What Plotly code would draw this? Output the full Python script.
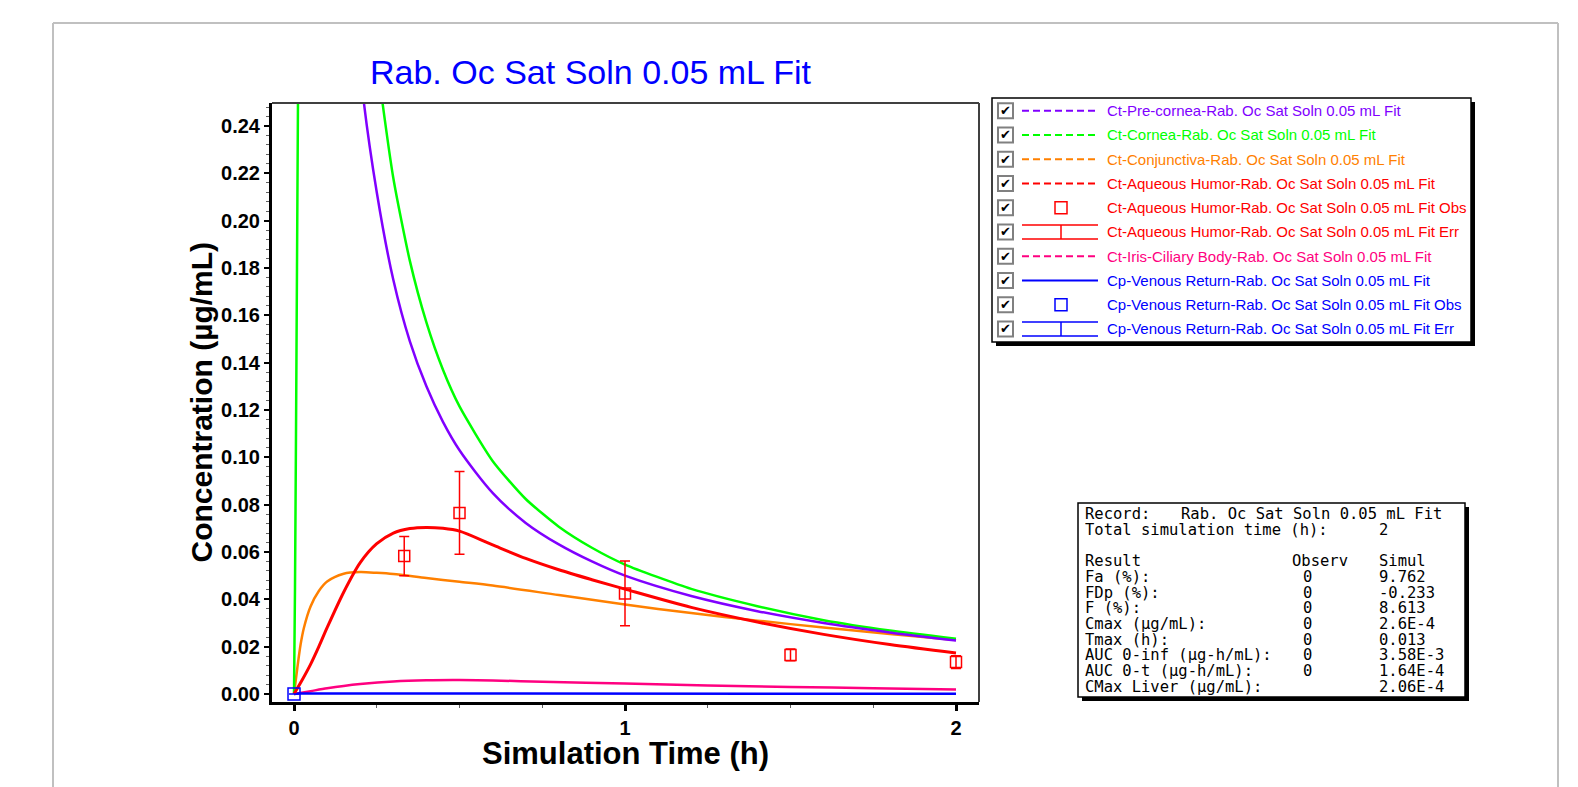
import plotly.graph_objects as go

W, H = 1578, 787
PL, PR, PT, PB = 272, 979, 103, 702  # plot area in pixels

X_RANGE = [-0.0665, 2.0695]
Y_RANGE = [-0.00338, 0.24972]

PURPLE = "#8000FF"
GREEN = "#00FF00"
ORANGE = "#FF8000"
RED = "#FF0000"
PINK = "#FF0080"
BLUE = "#0000FF"

TITLE = "Rab. Oc Sat Soln 0.05 mL Fit"
X_TITLE = "Simulation Time (h)"
Y_TITLE = "Concentration (µg/mL)"
X_TICKS = [0, 1, 2]
Y_TICKS = [0.00, 0.02, 0.04, 0.06, 0.08, 0.10, 0.12, 0.14, 0.16, 0.18, 0.20, 0.22, 0.24]

# ---- simulated curves ----
t_precornea = [0.17, 0.206, 0.25, 0.3, 0.35, 0.4, 0.45, 0.5, 0.6, 0.7, 0.8, 0.9, 1.0, 1.2, 1.4, 1.6, 1.8, 2.0]
c_precornea = [0.316, 0.256, 0.212, 0.175, 0.149, 0.130, 0.115, 0.103, 0.085, 0.0723, 0.0632, 0.0560, 0.0500,
               0.0414, 0.0350, 0.0300, 0.0260, 0.0226]

t_cornea = [0, 0.003, 0.006, 0.009, 0.012, 0.016, 0.2, 0.25, 0.3, 0.35, 0.4, 0.45, 0.5, 0.6, 0.7, 0.8, 0.9,
            1.0, 1.2, 1.4, 1.6, 1.8, 2.0]
c_cornea = [0, 0.045, 0.11, 0.18, 0.25, 0.32, 0.348, 0.269, 0.218, 0.183, 0.157, 0.137, 0.1215, 0.0985, 0.0824,
            0.0707, 0.0618, 0.0547, 0.0444, 0.0371, 0.0312, 0.0268, 0.0233]

t_conjunctiva = [0, 0.01, 0.02, 0.03, 0.05, 0.075, 0.1, 0.15, 0.2, 0.25, 0.3, 0.4, 0.5, 0.6, 0.8, 1.0, 1.2,
                 1.4, 1.6, 1.8, 2.0]
c_conjunctiva = [0, 0.011, 0.021, 0.028, 0.037, 0.0435, 0.0475, 0.0508, 0.0515, 0.0512, 0.0507, 0.0490, 0.0474,
                 0.0458, 0.0418, 0.0378, 0.0342, 0.0310, 0.0281, 0.0254, 0.0228]

t_aqueous = [0, 0.025, 0.05, 0.075, 0.1, 0.15, 0.2, 0.25, 0.3, 0.35, 0.4, 0.45, 0.5, 0.6, 0.7, 0.8, 0.9, 1.0,
             1.2, 1.4, 1.6, 1.8, 2.0]
c_aqueous = [0, 0.006, 0.0125, 0.020, 0.028, 0.043, 0.0555, 0.0635, 0.0680, 0.0699, 0.0704, 0.0700, 0.0688,
             0.0630, 0.0573, 0.0525, 0.0483, 0.0443, 0.0366, 0.0304, 0.0252, 0.0209, 0.0173]

t_iris = [0, 0.05, 0.1, 0.15, 0.2, 0.3, 0.4, 0.5, 0.6, 0.75, 1.0, 1.25, 1.5, 1.75, 2.0]
c_iris = [0, 0.0012, 0.0024, 0.0034, 0.0042, 0.0053, 0.0058, 0.0059, 0.0057, 0.0052, 0.0044, 0.0036, 0.0030,
          0.0024, 0.0019]

t_venous = [0, 0.013, 0.5, 1.0, 1.5, 2.0]
c_venous = [0, 0.00026, 0.00020, 0.00015, 0.00011, 0.00008]

# ---- observed data ----
t_aqueous_obs = [0.333, 0.5, 1.0, 1.5, 2.0]
c_aqueous_obs = [0.0583, 0.0765, 0.0425, 0.0165, 0.0135]
e_aqueous_obs = [0.0083, 0.0175, 0.0137, 0.0025, 0.0027]

t_venous_obs = [0]
c_venous_obs = [0]
e_venous_obs = [0]

# ---- legend / results text ----
LEG_LABELS = [
    "Ct-Pre-cornea-Rab. Oc Sat Soln 0.05 mL Fit",
    "Ct-Cornea-Rab. Oc Sat Soln 0.05 mL Fit",
    "Ct-Conjunctiva-Rab. Oc Sat Soln 0.05 mL Fit",
    "Ct-Aqueous Humor-Rab. Oc Sat Soln 0.05 mL Fit",
    "Ct-Aqueous Humor-Rab. Oc Sat Soln 0.05 mL Fit Obs",
    "Ct-Aqueous Humor-Rab. Oc Sat Soln 0.05 mL Fit Err",
    "Ct-Iris-Ciliary Body-Rab. Oc Sat Soln 0.05 mL Fit",
    "Cp-Venous Return-Rab. Oc Sat Soln 0.05 mL Fit",
    "Cp-Venous Return-Rab. Oc Sat Soln 0.05 mL Fit Obs",
    "Cp-Venous Return-Rab. Oc Sat Soln 0.05 mL Fit Err",
]
LEG_COLORS = [PURPLE, GREEN, ORANGE, RED, RED, RED, PINK, BLUE, BLUE, BLUE]
LEG_KINDS = ["dash", "dash", "dash", "dash", "obs", "err", "dash", "solid", "obs", "err"]

RES_ROWS = [
    ("Record:", "Rab. Oc Sat Soln 0.05 mL Fit", ""),
    ("Total simulation time (h):", "", "2"),
    ("", "", ""),
    ("Result", "Observ", "Simul"),
    ("Fa (%):", "0", "9.762"),
    ("FDp (%):", "0", "-0.233"),
    ("F (%):", "0", "8.613"),
    ("Cmax (µg/mL):", "0", "2.6E-4"),
    ("Tmax (h):", "0", "0.013"),
    ("AUC 0-inf (µg-h/mL):", "0", "3.58E-3"),
    ("AUC 0-t (µg-h/mL):", "0", "1.64E-4"),
    ("CMax Liver (µg/mL):", "", "2.06E-4"),
]


def px(x):
    return (x - PL) / (PR - PL)


def py(y):
    return (PB - y) / (PB - PT)


fig = go.Figure()

line_w = 2.5
curve = dict(mode="lines", line_shape="spline")
fig.add_trace(go.Scatter(x=t_iris, y=c_iris, line=dict(color=PINK, width=line_w, smoothing=0.8), **curve))
fig.add_trace(go.Scatter(x=t_venous, y=c_venous, mode="lines", line=dict(color=BLUE, width=line_w)))
fig.add_trace(go.Scatter(x=t_conjunctiva, y=c_conjunctiva, line=dict(color=ORANGE, width=line_w, smoothing=0.8),
                         **curve))
fig.add_trace(go.Scatter(x=t_cornea, y=c_cornea, line=dict(color=GREEN, width=line_w, smoothing=0.6), **curve))
fig.add_trace(go.Scatter(x=t_precornea, y=c_precornea, line=dict(color=PURPLE, width=line_w, smoothing=0.8),
                         **curve))
fig.add_trace(go.Scatter(x=t_aqueous, y=c_aqueous, line=dict(color=RED, width=3, smoothing=0.8), **curve))

fig.add_trace(go.Scatter(
    x=t_aqueous_obs, y=c_aqueous_obs, mode="markers",
    marker=dict(symbol="square-open", size=11, color=RED, line=dict(width=1.5, color=RED)),
    error_y=dict(type="data", array=e_aqueous_obs, visible=True, color=RED, thickness=1.5, width=5),
))
fig.add_trace(go.Scatter(
    x=t_venous_obs, y=c_venous_obs, mode="markers",
    marker=dict(symbol="square-open", size=12, color=BLUE, line=dict(width=1.5, color=BLUE)),
    error_y=dict(type="data", array=e_venous_obs, visible=True, color=BLUE, thickness=1.5, width=5),
    cliponaxis=False,
))

FONT = "Liberation Sans, Arial, sans-serif"

shapes = []
annotations = []

# outer page frame (light gray)
frame_col = "#C0C0C0"
shapes.append(dict(type="line", xref="paper", yref="paper", x0=px(53), x1=px(1558), y0=py(23), y1=py(23),
                   line=dict(color=frame_col, width=2)))
shapes.append(dict(type="line", xref="paper", yref="paper", x0=px(53), x1=px(53), y0=py(23), y1=py(790),
                   line=dict(color=frame_col, width=2)))
shapes.append(dict(type="line", xref="paper", yref="paper", x0=px(1558), x1=px(1558), y0=py(23), y1=py(790),
                   line=dict(color=frame_col, width=2)))

# plot frame top / right
shapes.append(dict(type="line", xref="paper", yref="paper", x0=0, x1=1, y0=1, y1=1,
                   line=dict(color="#404040", width=2)))
shapes.append(dict(type="line", xref="paper", yref="paper", x0=1, x1=1, y0=0, y1=1,
                   line=dict(color="#404040", width=2)))

# ---- legend box ----
LX0, LY0, LX1, LY1 = 992, 98, 1471, 342
shapes.append(dict(type="rect", xref="paper", yref="paper", x0=px(LX0 + 4), x1=px(LX1 + 4), y0=py(LY0 + 4),
                   y1=py(LY1 + 4), line=dict(width=0), fillcolor="black"))
shapes.append(dict(type="rect", xref="paper", yref="paper", x0=px(LX0), x1=px(LX1), y0=py(LY0), y1=py(LY1),
                   line=dict(width=1.5, color="black"), fillcolor="white"))
for i, (lab, col, kind) in enumerate(zip(LEG_LABELS, LEG_COLORS, LEG_KINDS)):
    yc = 110.7 + i * 24.25
    # checkbox
    shapes.append(dict(type="rect", xref="paper", yref="paper", x0=px(998), x1=px(1013), y0=py(yc - 7.5),
                       y1=py(yc + 7.5), line=dict(width=2, color="#808080"), fillcolor="white"))
    annotations.append(dict(x=px(1005.5), y=py(yc), xref="paper", yref="paper", text="✔", showarrow=False,
                            xanchor="center", yanchor="middle",
                            font=dict(family="DejaVu Sans", size=13, color="black")))
    if kind in ("dash", "solid"):
        shapes.append(dict(type="line", xref="paper", yref="paper", x0=px(1022), x1=px(1098), y0=py(yc),
                           y1=py(yc), line=dict(color=col, width=2,
                                                dash="7px,4px" if kind == "dash" else "solid")))
    elif kind == "obs":
        shapes.append(dict(type="rect", xref="paper", yref="paper", x0=px(1055), x1=px(1067), y0=py(yc - 6),
                           y1=py(yc + 6), line=dict(color=col, width=1.5)))
    else:
        for yy in (yc - 7, yc + 7):
            shapes.append(dict(type="line", xref="paper", yref="paper", x0=px(1022), x1=px(1098), y0=py(yy),
                               y1=py(yy), line=dict(color=col, width=1.5)))
        shapes.append(dict(type="line", xref="paper", yref="paper", x0=px(1061), x1=px(1061), y0=py(yc - 7),
                           y1=py(yc + 7), line=dict(color=col, width=1.5)))
    annotations.append(dict(x=px(1105), y=py(yc), xref="paper", yref="paper", text=lab, showarrow=False,
                            xanchor="left", yanchor="middle", font=dict(family=FONT, size=15, color=col)))

# ---- results box ----
RX0, RY0, RX1, RY1 = 1078, 503, 1465, 697
shapes.append(dict(type="rect", xref="paper", yref="paper", x0=px(RX0 + 4), x1=px(RX1 + 4), y0=py(RY0 + 4),
                   y1=py(RY1 + 4), line=dict(width=0), fillcolor="black"))
shapes.append(dict(type="rect", xref="paper", yref="paper", x0=px(RX0), x1=px(RX1), y0=py(RY0), y1=py(RY1),
                   line=dict(width=1.5, color="black"), fillcolor="white"))
MONO = "DejaVu Sans Mono, monospace"
for i, row in enumerate(RES_ROWS):
    yc = 514 + i * 15.7
    for j, txt in enumerate(row):
        if not txt:
            continue
        if i == 0:
            x = [1083, 1179, 0][j]
        elif j == 0:
            x = 1083
        elif j == 1:
            x = 1307 if txt == "0" else 1290
        else:
            x = 1377
        annotations.append(dict(x=px(x), y=py(yc), xref="paper", yref="paper", text=txt.replace(" ", "\u00a0"),
                                showarrow=False, xanchor="center" if (j == 1 and txt == "0") else "left",
                                yanchor="middle",
                                font=dict(family=MONO, size=15.5, color="black")))

# ---- titles ----
annotations.append(dict(x=px(590), y=py(72), xref="paper", yref="paper", text=TITLE, showarrow=False,
                        xanchor="center", yanchor="middle", font=dict(family=FONT, size=34, color=BLUE)))
annotations.append(dict(x=px(625.5), y=py(753), xref="paper", yref="paper", text=X_TITLE, showarrow=False,
                        xanchor="center", yanchor="middle",
                        font=dict(family=FONT, size=31, color="black", weight="bold")))
annotations.append(dict(x=px(201), y=py(402.5), xref="paper", yref="paper", text=Y_TITLE, showarrow=False,
                        xanchor="center", yanchor="middle", textangle=-90,
                        font=dict(family=FONT, size=30, color="black", weight="bold")))

fig.update_layout(
    width=W, height=H,
    margin=dict(l=PL, r=W - PR, t=PT, b=H - PB, pad=0),
    paper_bgcolor="white", plot_bgcolor="white",
    showlegend=False,
    shapes=shapes, annotations=annotations,
)
fig.update_xaxes(
    range=X_RANGE, tickvals=X_TICKS, ticktext=[str(v) for v in X_TICKS],
    showgrid=False, zeroline=False, showline=True, linecolor="black", linewidth=3,
    ticks="outside", ticklen=6, tickwidth=3, tickcolor="black",
    tickfont=dict(family=FONT, size=20, color="black", weight="bold"),
    minor=dict(ticks="outside", ticklen=3, tickwidth=1, tickcolor="#606060", dtick=0.25, tick0=0),
)
fig.update_yaxes(
    range=Y_RANGE, tickvals=Y_TICKS, ticktext=[f"{v:.2f}" for v in Y_TICKS],
    showgrid=False, zeroline=False, showline=True, linecolor="black", linewidth=3,
    ticks="outside", ticklen=5, tickwidth=2, tickcolor="black",
    tickfont=dict(family=FONT, size=20, color="black", weight="bold"),
    minor=dict(ticks="outside", ticklen=3, tickwidth=1, tickcolor="#606060", dtick=0.004, tick0=0),
)

fig.write_html("out.html")
